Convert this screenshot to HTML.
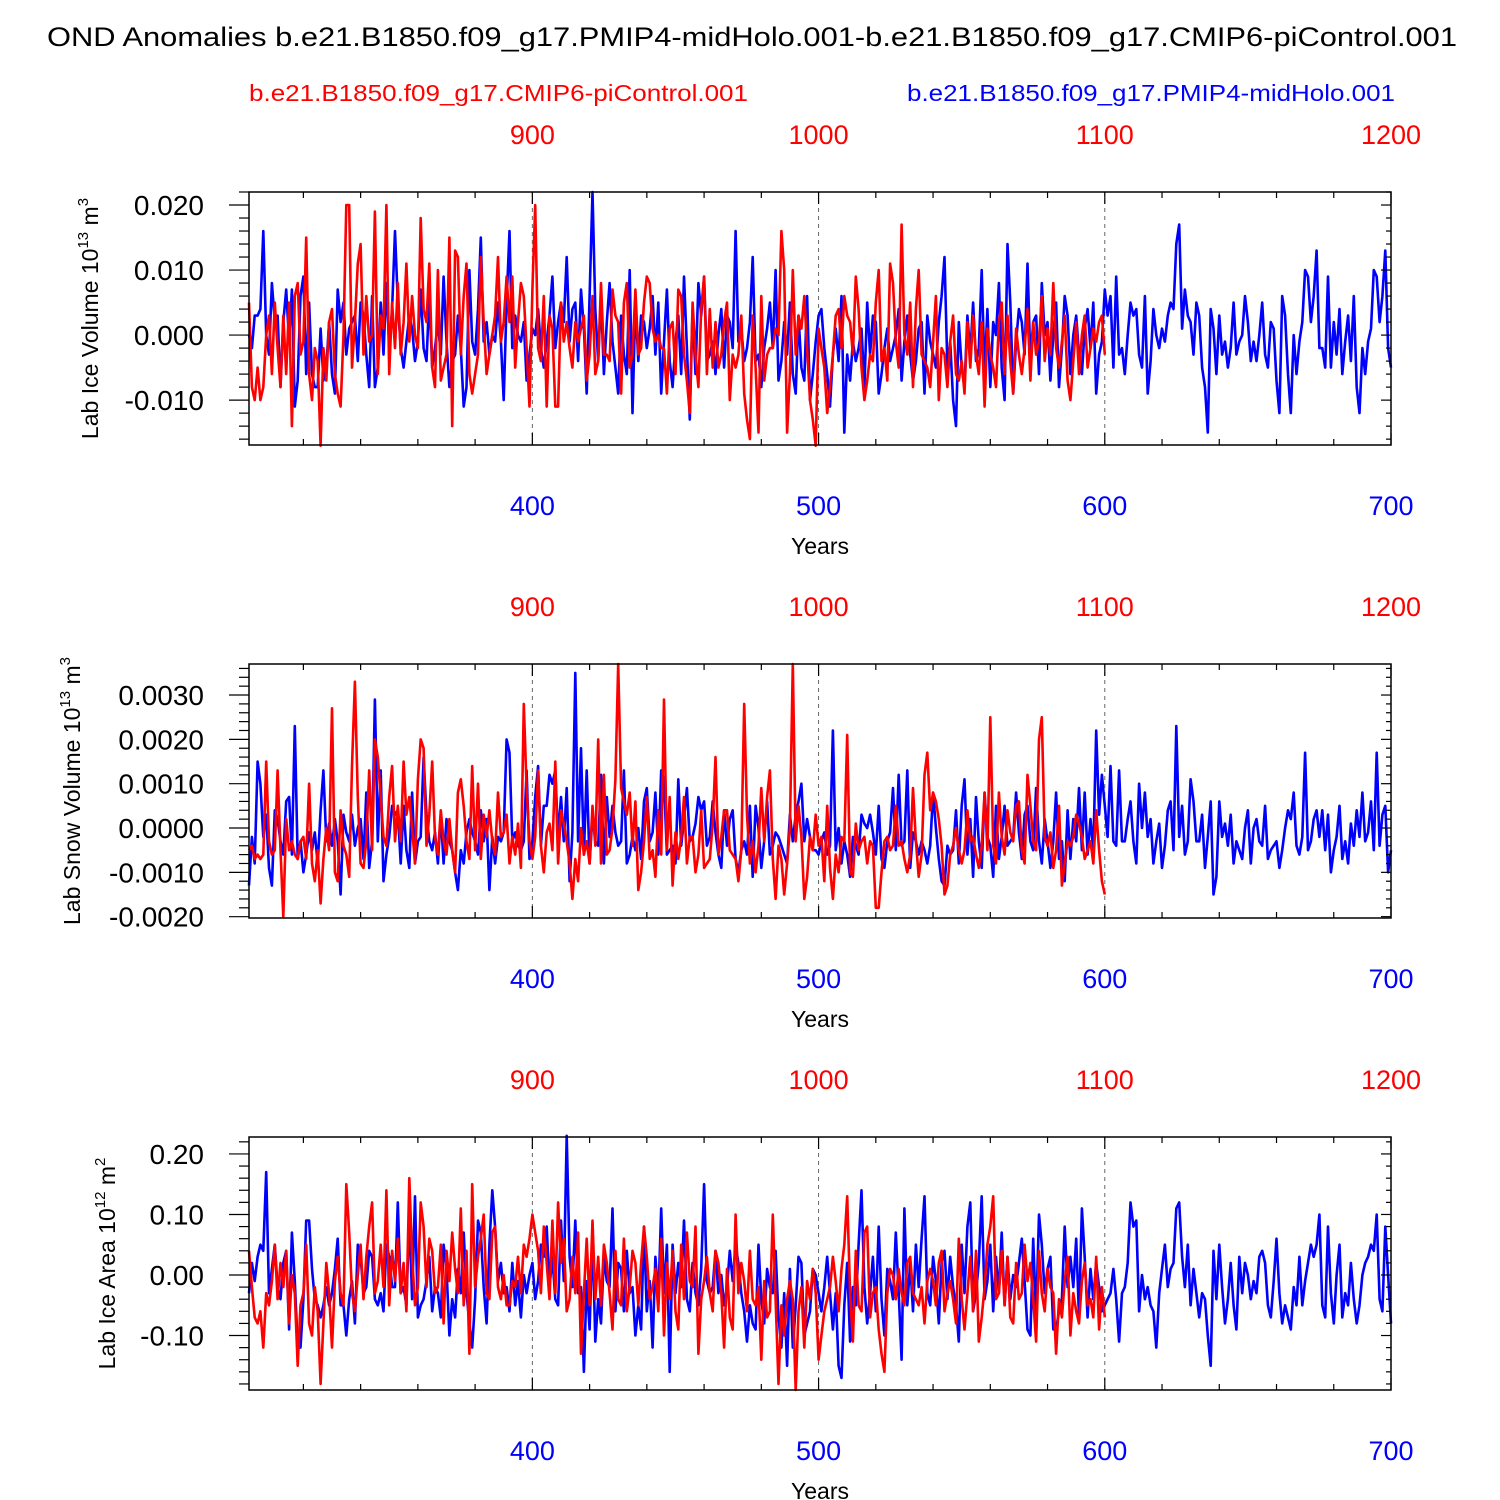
<!DOCTYPE html>
<html><head><meta charset="utf-8"><style>
html,body{margin:0;padding:0;background:#fff;}
svg{display:block;font-family:"Liberation Sans",sans-serif;}
</style></head><body>
<svg id="chart" width="1500" height="1500" viewBox="0 0 1500 1500" xmlns="http://www.w3.org/2000/svg">
<text x="47" y="46" font-size="27" textLength="1410" lengthAdjust="spacingAndGlyphs">OND Anomalies b.e21.B1850.f09_g17.PMIP4-midHolo.001-b.e21.B1850.f09_g17.CMIP6-piControl.001</text>
<text x="249" y="101" font-size="23" fill="#ff0000" textLength="499" lengthAdjust="spacingAndGlyphs">b.e21.B1850.f09_g17.CMIP6-piControl.001</text>
<text x="907" y="101" font-size="23" fill="#0000ff" textLength="488" lengthAdjust="spacingAndGlyphs">b.e21.B1850.f09_g17.PMIP4-midHolo.001</text>
</svg>
<script>
// Panel 1: Lab Ice Volume (units 1e-3 * 1e13 m^3)
const blueIceVol = [0,-2,3,3,4,16,0,-3,8,2,3,-8,2,7,-1,7,-11,-7,6,9,-6,5,-6,-8,-8,1,-7,-5,2,-6,-9,7,2,5,-3,1,2,3,-4,5,
3,-3,-8,6,-8,-5,5,-3,8,-2,4,16,5,-2,-5,-1,3,1,-4,-1,7,-2,-4,6,-5,-2,2,-3,9,-1,-8,-4,-3,3,-2,-11,-8,10,-1,-3,
4,15,-1,2,-3,0,-1,5,-1,-10,5,16,-2,3,0,-1,2,-7,-3,1,0,4,-2,-5,-1,3,9,-2,2,5,2,12,-1,4,5,-4,7,1,-9,6,
22,4,-4,6,-6,2,8,-1,-5,-9,3,-3,-6,10,-12,5,-4,3,2,-2,1,6,-3,5,-9,-1,7,-4,-8,-1,3,-6,9,-2,-13,4,-6,8,3,9,
-4,-3,-1,-6,0,4,-5,3,2,-2,16,-1,1,-4,-2,2,12,-4,-3,-8,-2,1,5,-2,10,-7,-4,2,-3,5,-6,-9,3,-5,-7,6,-10,-6,-1,3,
4,-2,-6,-11,-3,1,-4,6,-15,-3,-7,-1,-4,-2,1,-8,5,-3,3,2,-9,-6,-2,1,-4,-2,0,4,-7,-1,3,-3,-7,-4,1,2,-9,3,-1,-3,
-5,2,6,12,-5,-1,-10,-14,2,-5,-8,3,-3,5,-4,-2,10,-6,4,-8,2,0,8,-5,-10,14,5,-9,-1,4,2,-3,11,-4,2,3,-6,8,0,2,
-7,0,5,-8,-2,6,3,-6,0,3,-3,-6,1,4,-2,5,-9,-3,-1,7,3,6,-5,9,-3,-2,-6,0,5,3,4,-3,-5,6,-9,-4,4,0,-2,1,
-1,3,5,4,14,17,1,7,3,2,-3,5,3,-5,-8,-15,4,1,-6,3,-3,-1,-5,-2,5,-3,-1,0,6,2,-4,-1,-4,0,5,-3,-5,2,1,-7,
-12,6,3,-6,-12,0,-6,-1,2,10,9,2,6,13,-2,-2,-5,9,-5,2,
-3,4,-6,-1,3,-4,6,-8,-12,-2,-6,-1,1,10,9,2,6,13,-2,-5];
const redIceVol = [5,-8,-10,-5,-10,-8,0,3,-6,5,-2,-8,3,-6,5,-14,6,8,-3,-1,15,-6,-10,-2,-4,-17,-2,-7,2,4,-6,-9,-11,0,20,20,-5,2,11,14,
-3,6,-1,0,19,-6,3,1,20,-6,5,-2,8,-3,2,11,-1,6,0,-2,18,4,2,11,-5,-8,10,-7,-5,-3,15,-14,13,12,-3,6,11,-6,-9,-6,
-3,12,2,-6,-3,0,3,12,-1,2,9,2,9,-5,2,8,6,-2,-11,7,20,-2,-4,6,-11,3,1,-11,-11,5,-1,2,-2,-5,2,-1,1,3,-7,-3,
6,-6,-4,8,-3,-3,-4,7,3,2,-9,5,8,-5,-3,7,-3,-2,5,9,8,1,-1,0,-2,-2,-9,1,2,-6,7,6,-3,-7,-12,5,-3,-8,4,9,
-6,4,-5,2,-5,-3,2,5,-10,-3,-5,-3,3,-9,-13,-16,3,-5,-15,6,-7,-3,-2,-2,1,0,16,10,-15,-6,10,-3,3,1,6,-2,-10,-13,-17,1,
-2,-5,-12,-8,-3,3,4,-2,6,3,2,-3,9,4,-5,-10,-7,-3,-4,5,10,-4,-2,-7,11,8,-1,-5,17,0,-3,5,-8,4,10,-3,-4,-5,-8,-1,
6,-10,-2,-3,-8,-1,3,-6,-7,-4,-9,2,-5,3,-3,-6,2,-11,1,-3,-5,-8,2,5,-6,3,-4,-9,1,-3,-6,-2,4,-7,2,-3,-1,6,-4,1,
-3,8,-2,-5,-1,3,-7,-10,-4,2,-6,0,3,-5,-2,1,-1,2,3,-3];
// Panel 2: Lab Snow Volume (units 1e-4 * 1e13 m^3)
const blueSnowVol = [-13,-2,-8,15,10,-2,3,-9,-13,4,2,-3,-6,6,7,-6,23,-7,-3,-10,-6,-1,-5,-1,-8,4,13,-3,1,-4,2,-3,-15,3,-1,-3,3,-4,0,2,
-7,8,-9,-3,29,-3,13,-12,-6,-2,5,3,4,-8,5,-5,-9,8,-8,-3,-2,16,3,-3,-5,-1,-8,3,-8,2,-3,-5,-10,-14,-5,-8,-1,2,-1,-3,
-6,4,-3,2,-14,-2,-8,-2,-3,-1,20,17,-3,-1,-4,-5,-3,13,-7,-3,7,14,-4,5,5,12,10,13,-2,7,-3,9,-12,-1,35,-3,18,-6,13,-8,
3,-3,-4,12,-8,7,-2,5,-1,-4,-3,13,-8,-6,-2,-5,0,-7,6,9,-3,-1,8,-6,13,11,-6,-5,-4,-8,11,-4,2,9,-3,-2,1,7,4,6,
-4,-2,6,-1,-6,-9,4,-4,2,4,-7,-10,-5,-3,-6,5,-11,5,0,-9,-3,6,-6,-4,-1,-2,-4,-6,-8,3,-3,3,6,10,-3,2,-2,-5,-5,-6,
-3,-1,-6,-4,22,-5,0,-8,-3,-6,-11,-2,-4,-6,3,1,0,3,-1,-6,5,-7,-9,-3,-1,9,-5,12,-4,-3,13,-9,-1,-3,-6,-3,-5,-8,-4,8,
0,-7,-12,-13,-4,-6,-5,4,-8,5,11,-6,2,-11,7,-3,-9,8,-2,-4,-11,5,-7,-2,5,-4,-3,-2,8,-1,-7,3,5,-3,-5,9,-3,-8,2,-3,
-9,-3,8,-7,-3,-12,4,-7,2,-3,9,-5,8,-6,2,-5,22,3,12,5,-2,14,-3,-4,13,-3,-3,2,6,-3,-8,10,0,8,-2,2,-8,-3,1,-9,
-4,4,6,-5,23,-2,5,-6,-3,11,6,-3,-3,3,-9,-2,6,-15,-11,6,-2,1,-4,3,-8,-3,-5,-7,0,4,-8,0,2,-3,-4,5,-7,-5,-4,-3,
-9,-5,0,4,2,8,-4,-6,-2,17,-5,-3,2,4,-2,4,-5,3,-10,-5,
-2,5,-7,-3,-8,1,-4,4,-2,8,-3,-1,6,-5,17,-4,3,5,-10,-5];
const redSnowVol = [-5,-4,-7,-6,-7,-6,15,-3,-6,-5,13,-5,-20,2,-5,-3,-6,-7,-3,-2,-7,10,-8,-12,-5,-17,-7,0,-5,27,-10,-12,4,-4,-6,-11,14,33,7,-8,
-9,-3,13,-5,20,16,7,-2,-4,7,14,-3,5,-3,15,3,7,0,-8,11,20,18,-4,3,15,-2,-6,4,-3,-6,2,-5,-10,8,11,5,-3,-7,14,-5,
10,-7,3,-2,4,-3,-6,8,-2,-1,3,-8,-2,-6,1,-9,28,9,-3,-7,-2,13,-4,-10,-1,1,-5,15,-8,4,1,-3,-8,-16,-7,-12,0,-6,-3,-8,
5,-4,20,-8,12,-6,-5,0,11,37,9,6,3,8,-4,6,-14,-10,-3,7,-7,-5,-11,4,-6,29,-5,7,-13,-1,-7,-2,7,-8,-2,-2,-10,-6,4,-9,
-8,-7,1,16,-6,-2,4,4,-5,-6,-7,-12,-5,28,3,-8,-3,-10,-4,9,-3,7,13,-7,-16,-4,-7,-15,-8,0,37,-3,5,-2,-16,-11,-2,-5,3,-4,
-2,-12,5,-9,-16,-6,-10,-2,-3,21,-10,-11,1,-5,-3,-2,-8,-3,-4,-18,-18,-10,-3,-2,-5,-4,5,-4,-3,-7,-10,-6,9,-3,-11,-6,12,17,4,8,
6,2,-4,-15,-13,-6,-4,0,-5,-8,-5,4,-3,-2,-6,-9,-4,8,-5,25,-4,-8,8,-2,-6,4,-1,-3,5,6,-5,-8,12,5,-3,-5,20,25,-2,-4,
-1,-9,-5,5,-13,-8,-3,-4,-2,3,1,-2,-7,-5,-3,-8,4,-5,-12,-15];
// Panel 3: Lab Ice Area (units 1e-2 * 1e12 m^2)
const blueIceArea = [-3,2,-1,3,5,4,17,-3,1,5,-2,-4,2,4,-9,7,-1,-12,-12,-4,9,9,1,-4,-5,-7,-5,-2,-5,-3,1,6,-5,-5,-10,-4,-1,-8,5,3,
-3,-2,4,3,-4,-5,-3,-6,5,3,-2,-2,12,-3,-2,-5,10,-4,13,-7,-5,-4,-1,3,-6,-2,-3,-7,5,1,-10,-4,-7,1,-3,7,-3,-8,-12,-4,
9,7,-2,-8,5,14,8,-1,2,-3,-2,-6,2,-5,-1,-7,0,-3,0,2,-4,-1,5,3,8,-2,3,-4,-5,9,-1,23,3,-2,9,-3,-2,-16,-1,-9,
7,-11,-4,-8,3,-1,-2,11,-6,2,1,-6,4,-3,-2,-10,-5,-9,8,-6,-1,-12,3,-4,11,-3,5,-16,5,-3,2,-2,9,-4,-6,2,-3,-5,1,15,
-1,-3,-2,4,-3,0,-5,-2,4,-1,5,2,-3,-6,-11,-5,-8,-9,5,-4,-8,1,-2,-3,4,-7,-12,-3,-15,1,-12,-5,3,2,-10,-8,-6,1,0,-3,
-6,-2,3,-3,-9,-3,-15,-17,-5,2,-11,-2,-5,5,14,-2,-8,-3,3,-6,8,-4,-10,1,-1,-4,7,-3,-14,11,-5,2,-6,5,-2,6,13,-3,-5,3,
-1,-8,2,4,-4,3,-2,-5,-11,5,-3,8,12,-6,-3,2,13,-4,-1,5,-6,3,-3,7,-5,3,-4,0,-2,2,6,-1,-9,-10,6,-7,10,5,-3,1,
3,-9,-9,-6,-4,8,-2,3,-2,6,-7,11,3,-7,1,-4,2,-2,-6,-5,-4,-3,1,-4,-11,-3,-2,2,12,8,9,-6,0,-4,-2,-5,-6,-12,-3,1,
5,-2,1,2,11,12,3,-2,5,-5,1,-3,-7,-3,-4,-10,-15,4,-4,5,-2,-8,-4,2,-5,-9,3,-3,2,0,-4,-1,-3,3,4,2,-5,-7,-1,6,
-3,-8,-5,-7,-9,-2,-5,3,-5,-1,2,5,3,5,10,-5,-7,8,-3,-8,
0,5,-7,-3,-5,2,-4,-8,-5,0,2,3,5,4,10,-4,-6,8,0,-8];
const redIceArea = [4,-2,-7,-8,-6,-12,-3,-5,-1,5,-4,2,-2,4,-8,0,-3,-15,-5,-3,5,-8,-10,-2,-6,-18,-8,2,-3,-12,-1,3,-3,-5,15,7,-3,-6,0,5,
-4,3,8,12,-3,-1,5,-2,14,-5,4,-1,6,-3,2,-6,16,3,-5,-2,12,8,-2,6,4,-3,-2,5,-8,4,-1,7,1,-3,11,-5,4,-13,15,-2,
3,6,10,-3,-4,7,8,-2,-4,0,-5,-5,-1,-2,3,-3,5,3,6,10,7,4,-3,8,2,-4,9,-3,12,2,6,-6,-4,3,-3,7,-13,-3,6,-5,
9,-4,3,-5,5,2,-3,-9,4,-4,-5,6,-6,-2,4,2,-5,2,8,3,-4,-2,1,-6,6,-10,2,-4,4,-6,-9,5,-4,7,-1,-2,8,-13,-4,-1,
3,-3,-6,4,2,-3,-12,1,-7,-9,10,-3,2,-1,-6,4,-4,-5,-2,-14,-1,-7,-6,10,-4,-18,-5,-10,-4,-1,-4,-19,-6,-2,-12,-1,-4,1,-3,-14,
-10,-6,-4,-2,3,-1,-6,1,5,13,-3,-11,4,-5,-6,7,8,-7,-3,-2,-9,-13,-16,-3,1,0,-4,1,-3,-5,2,3,-3,-4,-5,-2,-8,-1,1,-1,
-5,2,4,-6,-3,-1,-4,-8,6,-4,-9,-3,3,-6,4,-11,-7,-2,5,8,13,-4,-3,4,-5,3,-7,-8,2,-4,-3,5,-1,2,-4,-11,4,-3,-6,1,
-2,-3,-13,-4,-7,-1,3,-10,-3,-6,-8,-1,2,-5,-4,-7,3,-9,-2,-7];
const bottomTicks = [400,500,600,700];
const topTickLabels = ["900","1000","1100","1200"];
const ticks1 = ["0.020","0.010","0.000","-0.010"];
const ticks2 = ["0.0030","0.0020","0.0010","0.0000","-0.0010","-0.0020"];
const ticks3 = ["0.20","0.10","0.00","-0.10"];

const svg = document.getElementById('chart');
const NS = 'http://www.w3.org/2000/svg';
function mk(tag, attrs, parent){const e=document.createElementNS(NS,tag);for(const k in attrs)e.setAttribute(k,attrs[k]);(parent||svg).appendChild(e);return e;}
const X0=249, X1=1391, Y0=301, Y1=700;
const xs = y => X0 + (y - Y0) * (X1 - X0) / (Y1 - Y0);

const panels = [
 {top:192,bot:445,vmax:0.022,vmin:-0.0169,scale:1e-3,blue:blueIceVol,red:redIceVol,ticks:ticks1,minor:0.002,name:'ice-volume',title:['Lab Ice Volume 10','13',' m','3'],tx:98},
 {top:664,bot:918,vmax:0.0037,vmin:-0.00203,scale:1e-4,blue:blueSnowVol,red:redSnowVol,ticks:ticks2,minor:0.0002,name:'snow-volume',title:['Lab Snow Volume 10','13',' m','3'],tx:80},
 {top:1137,bot:1390,vmax:0.228,vmin:-0.19,scale:1e-2,blue:blueIceArea,red:redIceArea,ticks:ticks3,minor:0.02,name:'ice-area',title:['Lab Ice Area 10','12',' m','2'],tx:115}
];

panels.forEach(p=>{
 const g = mk('g',{});
 
 
 const ys = v => p.bot - (v - p.vmin) * (p.bot - p.top) / (p.vmax - p.vmin);
 [400,500,600].forEach(yr=>{
  const l=mk('line',{x1:xs(yr),x2:xs(yr),y1:p.top,y2:p.bot,stroke:'#666','stroke-width':1,'stroke-dasharray':'4,4'},g);
  
  
 });
 const line=(arr,color,nm)=>{
  const pts=arr.map((v,i)=>xs(Y0+i).toFixed(1)+','+ys(v*p.scale).toFixed(1)).join(' ');
  const pl=mk('polyline',{points:pts,fill:'none',stroke:color,'stroke-width':2.6,'stroke-linejoin':'round'},g);
  
  
 };
 line(p.blue,'#0000ff',p.name+'-midholo-line');
 line(p.red,'#ff0000',p.name+'-picontrol-line');
 const fr=mk('rect',{x:X0,y:p.top,width:X1-X0,height:p.bot-p.top,fill:'none',stroke:'#000','stroke-width':1.5},g);
 
 
 for(let yr=320; yr<=700; yr+=20){
  const major = yr%100===0; const len = major?12:6; const x=xs(yr);
  mk('line',{x1:x,x2:x,y1:p.bot,y2:p.bot-len,stroke:'#000','stroke-width':1.2},g);
  mk('line',{x1:x,x2:x,y1:p.top,y2:p.top+len,stroke:'#000','stroke-width':1.2},g);
 }
 bottomTicks.forEach((yr,i)=>{
  const t=mk('text',{x:xs(yr),y:p.bot+70,'font-size':27,'text-anchor':'middle',fill:'#0000ff'},g);
  t.textContent=yr;
  
  
  const t2=mk('text',{x:xs(yr),y:p.top-48,'font-size':27,'text-anchor':'middle',fill:'#ff0000'},g);
  t2.textContent=topTickLabels[i];
  
  
 });
 const xt=mk('text',{x:820,y:p.bot+109,'font-size':23,'text-anchor':'middle'},g);
 xt.textContent='Years';
 
 
 const startM = Math.ceil(p.vmin/p.minor);
 for(let k=startM; k*p.minor<=p.vmax+1e-12; k++){
  const v=k*p.minor; const major = Math.abs(Math.round(k)%5)===0; const y=ys(v);
  mk('line',{x1:X0,x2:X0-(major?20:10),y1:y,y2:y,stroke:'#000','stroke-width':1.2},g);
  mk('line',{x1:X1,x2:X1-(major?10:5),y1:y,y2:y,stroke:'#000','stroke-width':1.2},g);
 }
 p.ticks.forEach(s=>{
  const t=mk('text',{x:X0-45,y:ys(parseFloat(s))+10,'font-size':28,'text-anchor':'end'},g);
  t.textContent=s;
  
  
 });
 const cy=(p.top+p.bot)/2;
 const yt=mk('text',{x:p.tx,y:cy,'font-size':23,'text-anchor':'middle',transform:`rotate(-90 ${p.tx} ${cy})`},g);
 
 
 const parts=p.title;
 const s1=mk('tspan',{},yt); s1.textContent=parts[0];
 const s2=mk('tspan',{'font-size':15,dy:-10},yt); s2.textContent=parts[1];
 const s3=mk('tspan',{dy:10},yt); s3.textContent=parts[2];
 const s4=mk('tspan',{'font-size':15,dy:-10},yt); s4.textContent=parts[3];
});
</script>
</body></html>
